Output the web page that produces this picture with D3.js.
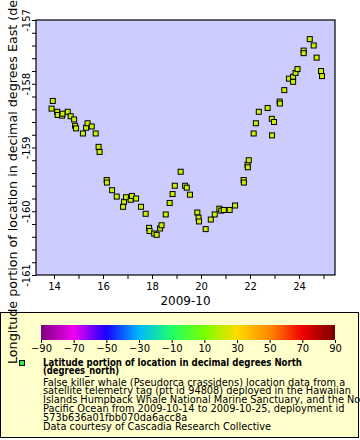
<!DOCTYPE html>
<html><head><meta charset="utf-8">
<script src="https://cdn.jsdelivr.net/npm/d3@7"></script>
<style>body{margin:0;background:#fff}svg{display:block;font-family:"DejaVu Sans",sans-serif}</style>
</head><body><svg id="c" width="360" height="440"></svg>
<script>
const days = [13.90,13.95,14.13,14.15,14.33,14.35,14.56,14.68,14.82,14.86,14.90,15.18,15.31,15.37,15.54,15.70,15.82,15.86,16.15,16.16,16.37,16.56,16.82,16.86,16.94,17.13,17.18,17.35,17.55,17.74,17.88,17.90,18.09,18.19,18.33,18.39,18.56,18.72,18.84,18.93,19.17,19.35,19.42,19.55,19.85,19.90,19.92,20.19,20.40,20.56,20.75,20.83,20.93,21.17,21.39,21.74,21.75,21.90,21.91,21.95,22.15,22.24,22.36,22.72,22.89,22.90,22.98,23.21,23.22,23.40,23.59,23.76,23.76,23.86,23.94,24.19,24.19,24.44,24.60,24.72,24.90,24.94];
const lons = [-158.39,-158.27,-158.44,-158.49,-158.50,-158.47,-158.44,-158.51,-158.56,-158.66,-158.70,-158.78,-158.69,-158.62,-158.67,-158.78,-158.99,-159.07,-159.51,-159.55,-159.67,-159.77,-159.93,-159.85,-159.78,-159.82,-159.76,-159.80,-159.93,-160.04,-160.26,-160.31,-160.35,-160.37,-160.27,-160.22,-160.05,-159.87,-159.73,-159.60,-159.38,-159.60,-159.63,-159.74,-160.02,-160.10,-160.16,-160.28,-160.13,-160.05,-159.96,-159.99,-159.98,-159.98,-159.91,-159.51,-159.55,-159.27,-159.31,-159.20,-158.78,-158.62,-158.44,-158.38,-158.55,-158.81,-158.60,-158.28,-158.31,-158.10,-157.92,-157.89,-157.97,-157.83,-157.77,-157.48,-157.52,-157.30,-157.40,-157.59,-157.80,-157.88];
const xTicks = [14,16,18,20,22,24];
const yTicks = [-161,-160,-159,-158,-157];
const cbTicks = [-90,-70,-50,-30,-10,10,30,50,70,90];
const cbColors = ["#800080","#f000f0","#1800ff","#00b8ff","#20ff68","#78ff00","#ffdc00","#ff8800","#f00000","#780000"];
const legendTitle = ["Latitude portion of location in decimal degrees North","(degrees_north)"];
const legendLines = ["False killer whale (Pseudorca crassidens) location data from a","satellite telemetry tag (ptt id 94808) deployed in the Hawaiian","Islands Humpback Whale National Marine Sanctuary, and the North","Pacific Ocean from 2009-10-14 to 2009-10-25, deployment id","573b636a01fbb070da6acc8a","Data courtesy of Cascadia Research Collective"];
const yLabel = "Longitude portion of location in decimal degrees East (degrees_east)";
const xLabel = "2009-10";

const svg = d3.select("#c");
const L=36,T=20,R=335,B=275;
const x = d3.scaleLinear().domain([13.265,25.47]).range([L,R]);
const y = d3.scaleLinear().domain([-161,-157]).range([B,T]);

// legend box
svg.append("rect").attr("x",0.5).attr("y",312.5).attr("width",358).attr("height",125)
  .attr("fill","#ffffcc").attr("stroke","#000");

// plot background
svg.append("rect").attr("x",L).attr("y",T).attr("width",R-L).attr("height",B-T).attr("fill","#ccccff");

// axes
const yMinor = d3.range(0,21).map(i=>-161+i*0.2);
const xa = svg.append("g").attr("transform",`translate(0,${B})`)
  .call(d3.axisBottom(x).tickValues(d3.range(14,26,1)).tickSize(4).tickFormat(d=>xTicks.includes(d)?d:""));
const ya = svg.append("g").attr("transform",`translate(${L},0)`)
  .call(d3.axisLeft(y).tickValues(yMinor).tickSize(4).tickFormat(d=>{const r=Math.round(d);return Math.abs(d-r)<1e-6&&yTicks.includes(r)?r:"";}));
[xa,ya].forEach(a=>{a.selectAll(".domain").remove();a.selectAll("line").attr("stroke","#000");a.selectAll("text").attr("fill","#000").style("font-size","10px").style("font-family","DejaVu Sans");});
xa.selectAll("text").attr("y",8);
ya.selectAll("text").attr("transform","rotate(-90)").attr("x",0).attr("y",-6).attr("dy",0).attr("text-anchor","middle");

// frame
svg.append("rect").attr("x",L).attr("y",T).attr("width",R-L).attr("height",B-T).attr("fill","none").attr("stroke","#000").attr("stroke-width",1.2);

// points
svg.append("g").selectAll("rect").data(days.map((d,i)=>[d,lons[i]])).join("rect")
  .attr("x",d=>x(d[0])-2.5).attr("y",d=>y(d[1])-2.5).attr("width",5).attr("height",5)
  .attr("fill","#ccee00").attr("stroke","#000").attr("stroke-width",1);

// x label
svg.append("text").attr("x",(L+R)/2).attr("y",305).attr("text-anchor","middle").style("font-size","12px").text(xLabel);
// y label
svg.append("text").attr("transform","rotate(-90)").attr("x",-364).attr("y",17).attr("text-anchor","start").style("font-size","12.7px").text(yLabel);

// colorbar
const cb = d3.scaleLinear().domain([-90,90]).range([41,335]);
const grad = svg.append("defs").append("linearGradient").attr("id","g");
cbTicks.forEach((t,i)=>grad.append("stop").attr("offset",((t+90)/180*100)+"%").attr("stop-color",cbColors[i]));
svg.append("rect").attr("x",41).attr("y",325).attr("width",294).attr("height",15).attr("fill","url(#g)");
const ca = svg.append("g").attr("transform","translate(0,340)").call(d3.axisBottom(cb).tickValues(cbTicks).tickSize(3));
ca.select(".domain").remove();
ca.selectAll("line").attr("stroke","#000");
ca.selectAll("text").attr("fill","#000").attr("y",5).style("font-size","10px").style("font-family","DejaVu Sans");

// legend marker
svg.append("rect").attr("x",19.5).attr("y",360.5).attr("width",5).attr("height",5).attr("fill","#33ee33").attr("stroke","#000");
const lt = svg.append("g").style("font-size","9.8px");
const titleW = [259,76];
legendTitle.forEach((s,i)=>lt.append("text").attr("x",43).attr("y",366+i*8).style("font-weight","bold")
  .attr("textLength",titleW[i]).attr("lengthAdjust","spacingAndGlyphs").text(s));
legendLines.forEach((s,i)=>lt.append("text").attr("x",43).attr("y",385.5+i*8.95).text(s));
</script></body></html>
